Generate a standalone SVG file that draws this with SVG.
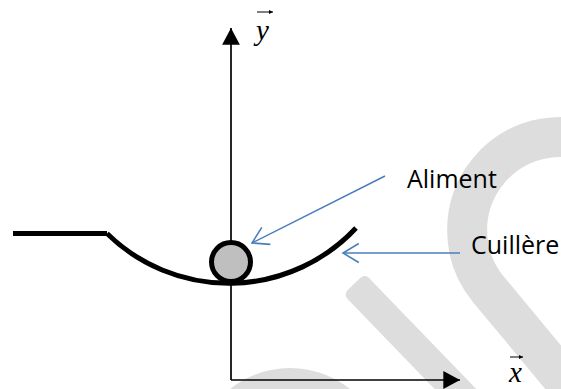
<svg xmlns="http://www.w3.org/2000/svg" width="561" height="389" viewBox="0 0 561 389">
<style>
.wm{fill:none;stroke:#dddddd;stroke-width:40}
.axis{stroke:#000;stroke-width:1.7;fill:none}
.spoon{stroke:#000;stroke-width:5;fill:none}
.ptr{stroke:#4a7ebb;stroke-width:1.5;fill:none}
.lbl{font-family:"Open Sans","Liberation Sans",sans-serif;font-size:25px;fill:#000}
.var{font-family:"Liberation Serif",serif;font-style:italic;font-size:29px;fill:#000}
.vec{stroke:#000;stroke-width:1;fill:none}
</style>
<defs>
<marker id="ah" markerUnits="userSpaceOnUse" markerWidth="20" markerHeight="20" viewBox="-16 -9 18 18" refX="0" refY="0" orient="auto">
<path d="M-15,-8 L0,0 L-15,8 Z" fill="#000"/>
</marker>
<marker id="open" markerUnits="userSpaceOnUse" markerWidth="20" markerHeight="22" viewBox="-17 -10 19 20" refX="0" refY="0" orient="auto">
<path d="M-15,-9 L0,0 L-15,9" fill="none" stroke="#4a7ebb" stroke-width="1.5"/>
</marker>
<marker id="small" markerUnits="userSpaceOnUse" markerWidth="6" markerHeight="6" viewBox="-5 -3 6 6" refX="0" refY="0" orient="auto">
<path d="M-4,-2 L0,0 L-4,2 Z" fill="#000"/>
</marker>
</defs>
<g id="watermark">
<path class="wm" d="M606.5,149.5 A93,93 0 0 0 488.8,289.8 L584.8,405.3"/>
<rect x="0" y="-15" width="170" height="30" rx="6" fill="#dddddd" transform="translate(354,284) rotate(46)"/>
<circle class="wm" cx="290" cy="464" r="76"/>
</g>
<g id="connectors">
<line id="y-axis" class="axis" x1="231" y1="380" x2="231" y2="28" marker-end="url(#ah)"/>
<line id="x-axis" class="axis" x1="231" y1="380" x2="460" y2="380" marker-end="url(#ah)"/>
<line id="arrow-aliment" class="ptr" x1="385" y1="176" x2="252" y2="243" marker-end="url(#open)"/>
<line id="arrow-cuillere" class="ptr" x1="460" y1="253" x2="343" y2="253" marker-end="url(#open)"/>
</g>
<g id="spoon">
<line class="spoon" x1="13" y1="233.5" x2="107" y2="233.5"/>
<path class="spoon" d="M107,233.5 A174,174 0 0 0 356,228"/>
</g>
<g id="food">
<circle cx="231" cy="262" r="19.5" fill="#bfbfbf" stroke="#000" stroke-width="5"/>
</g>
<g id="label-y">
<line class="vec" x1="257" y1="12" x2="273" y2="12" marker-end="url(#small)"/>
<text class="var" x="256" y="40">y</text>
</g>
<g id="label-x">
<line class="vec" x1="510" y1="357" x2="523" y2="357" marker-end="url(#small)"/>
<text class="var" x="509" y="382">x</text>
</g>
<g id="label-aliment">
<text class="lbl" x="407" y="188">Aliment</text>
</g>
<g id="label-cuillere">
<text class="lbl" x="471" y="254">Cuillère</text>
</g>
</svg>
